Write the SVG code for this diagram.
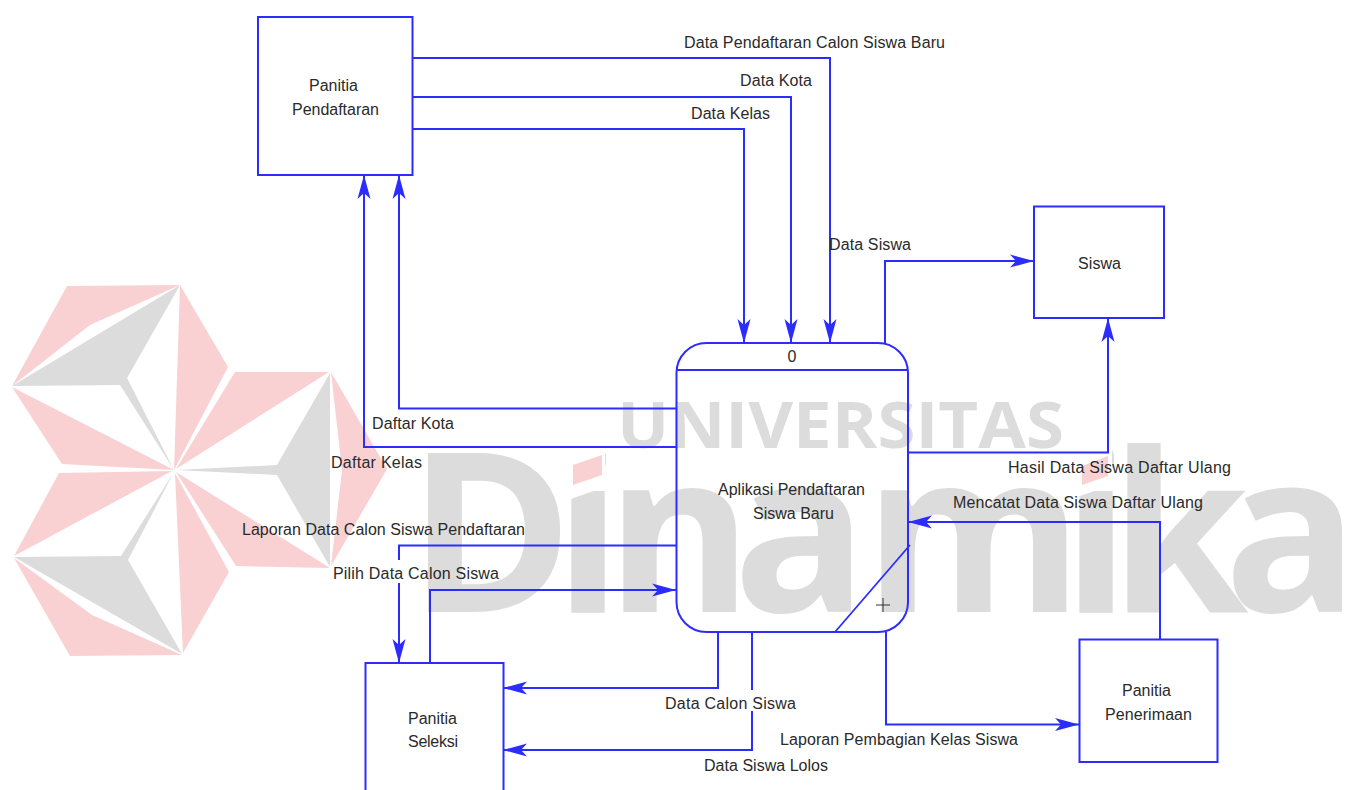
<svg xmlns="http://www.w3.org/2000/svg" width="1352" height="790" viewBox="0 0 1352 790">
<style>
.n{fill:none;stroke:#2c2cff;stroke-width:2}
.c{fill:none;stroke:#2c2cff;stroke-width:2;marker-end:url(#a)}
.p{fill:none;stroke:#2c2cff;stroke-width:1.8}
.t{font-family:"Liberation Sans",Arial,sans-serif;font-size:16px;fill:#2a2a2a}
.lp{fill:#fad1d3}
.lg{fill:#dcdcdc}
.w{font-family:"Open Sans",sans-serif;font-weight:700;fill:#dcdcdc}
</style>
<defs>
<marker id="a" markerUnits="userSpaceOnUse" orient="auto" overflow="visible" markerWidth="24" markerHeight="14" viewBox="-24 -7 24 14" refX="0" refY="0"><path d="M0,0L-24,-6.500L-18,0L-24,6.500Z" fill="#2c2cff"/></marker>
<clipPath id="wc">
<rect x="400" y="420" width="165" height="220"/>
<polygon points="565,501 605,487 605,640 565,640"/>
<rect x="605" y="420" width="469" height="220"/>
<polygon points="1074,498 1112,485 1112,640 1074,640"/>
<rect x="1112" y="420" width="240" height="220"/>
</clipPath>
</defs>
<rect width="1352" height="790" fill="#fff"/>
<g id="watermark">
<polygon class="lp" points="67,286 180,285 90,325 12,386"/>
<polygon class="lg" points="180,285 127,378 174,470 120,385 12,386"/>
<polygon class="lp" points="12,387 174,470 62,464"/>
<polygon class="lp" points="180,285 228,367 174,470"/>
<polygon class="lp" points="235,372 329,372 176,469"/>
<polygon class="lg" points="330,373 277,465 176,470 277,475 330,567"/>
<polygon class="lp" points="331,372 387,469 331,566 342,470"/>
<polygon class="lp" points="176,472 330,568 236,566"/>
<polygon class="lp" points="59,473 172,471 14,556"/>
<polygon class="lg" points="14,557 121,556 174,472 128,560 182,654"/>
<polygon class="lp" points="14,558 92,615 182,655 70,656"/>
<polygon class="lp" points="175,473 229,572 183,653"/>
<text class="w" x="617" y="448" font-size="64" textLength="447" lengthAdjust="spacingAndGlyphs">UNIVERSITAS</text>
<g clip-path="url(#wc)"><text class="w" font-size="223" y="612" x="408 554 606 733 864 1062 1110 1224">Dinamika</text></g>
<polygon class="lp" points="573,465 602,455 602,475 573,485"/>
<polygon class="lp" points="1082,466 1108,456 1108,476 1082,485"/>
</g>
<g id="connectors">
<path class="c" d="M412,58H830V343"/>
<path class="c" d="M412,97H791V343"/>
<path class="c" d="M412,129H744V343"/>
<path class="c" d="M676,447H364V175"/>
<path class="c" d="M676,408.500H399V175"/>
<path class="c" d="M885,343V261H1034"/>
<path class="c" d="M908,452.500H1108V318"/>
<path class="c" d="M1160,639V522H908"/>
<path class="c" d="M886,632V724.500H1079"/>
<path class="c" d="M676,545.500H399V560M399,583V663"/>
<path class="c" d="M430,663V590H676"/>
<path class="c" d="M718,632V688H503"/>
<path class="c" d="M752,632V690M752,711V750H503"/>
</g>
<g id="node-process">
<rect class="n" x="676.500" y="343" width="231.500" height="289" rx="30"/>
<path class="p" d="M676.500,370H908M835,632L910,545"/>
<path d="M876,605H890M883,598V612" fill="none" stroke="#333" stroke-width="1"/>
<text class="t" x="792" y="362" text-anchor="middle">0</text>
<text class="t" x="718" y="495" textLength="147">Aplikasi Pendaftaran</text>
<text class="t" x="753" y="519" textLength="81">Siswa Baru</text>
</g>
<g id="node-pendaftaran">
<rect class="n" x="258" y="17" width="154.500" height="158"/>
<text class="t" x="309" y="91" textLength="49">Panitia</text>
<text class="t" x="292" y="115" textLength="87">Pendaftaran</text>
</g>
<g id="node-siswa">
<rect class="n" x="1034" y="206.500" width="130" height="111.500"/>
<text class="t" x="1078" y="269" textLength="43">Siswa</text>
</g>
<g id="node-seleksi">
<rect class="n" x="365.500" y="663" width="138" height="140"/>
<text class="t" x="408" y="724" textLength="49">Panitia</text>
<text class="t" x="408" y="747" textLength="50">Seleksi</text>
</g>
<g id="node-penerimaan">
<rect class="n" x="1079.500" y="639.500" width="138" height="122.500"/>
<text class="t" x="1122" y="696" textLength="49">Panitia</text>
<text class="t" x="1105" y="720" textLength="87">Penerimaan</text>
</g>
<g id="labels">
<text class="t" x="684" y="48" textLength="261">Data Pendaftaran Calon Siswa Baru</text>
<text class="t" x="740" y="86" textLength="72">Data Kota</text>
<text class="t" x="691" y="119" textLength="79">Data Kelas</text>
<text class="t" x="829" y="250" textLength="82">Data Siswa</text>
<text class="t" x="372" y="429" textLength="82">Daftar Kota</text>
<text class="t" x="331" y="468" textLength="91">Daftar Kelas</text>
<text class="t" x="242" y="535" textLength="283">Laporan Data Calon Siswa Pendaftaran</text>
<text class="t" x="333" y="579" textLength="166">Pilih Data Calon Siswa</text>
<text class="t" x="665" y="709" textLength="131">Data Calon Siswa</text>
<text class="t" x="704" y="771" textLength="124">Data Siswa Lolos</text>
<text class="t" x="780" y="745" textLength="238">Laporan Pembagian Kelas Siswa</text>
<text class="t" x="1008" y="473" textLength="223">Hasil Data Siswa Daftar Ulang</text>
<text class="t" x="953" y="508" textLength="250">Mencatat Data Siswa Daftar Ulang</text>
</g>
</svg>
